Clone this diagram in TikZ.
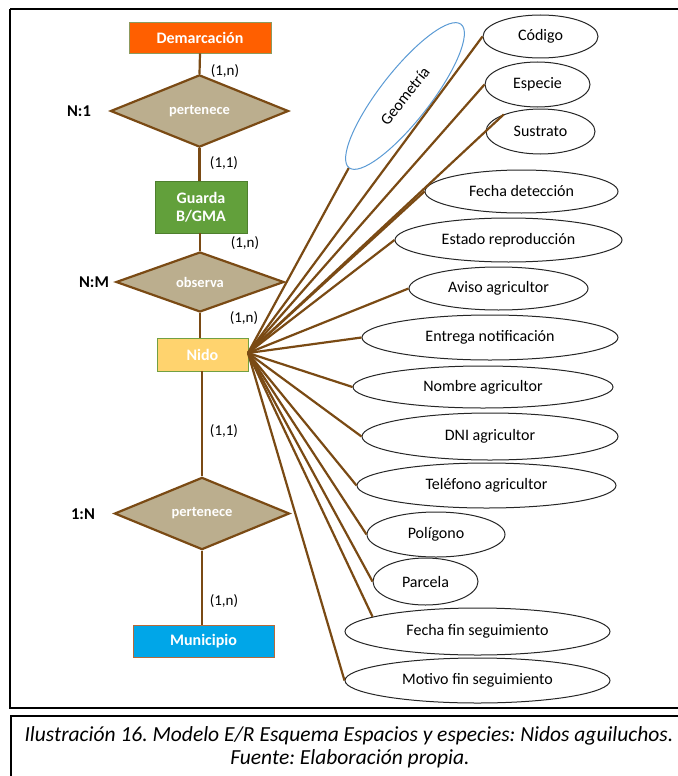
\documentclass[tikz,border=0pt]{standalone}
\usepackage{fontspec}
\setmainfont{Carlito}
\usetikzlibrary{shapes.geometric}

\definecolor{linkbrown}{HTML}{7A4A14}
\definecolor{relfill}{HTML}{BBAE8E}
\definecolor{demfill}{HTML}{FF5F00}
\definecolor{demline}{HTML}{8C9A5E}
\definecolor{guafill}{HTML}{62A03B}
\definecolor{gualine}{HTML}{4E7F2E}
\definecolor{nidfill}{HTML}{FFD36E}
\definecolor{nidline}{HTML}{72A042}
\definecolor{munfill}{HTML}{00A6E8}
\definecolor{munline}{HTML}{B56A3A}
\definecolor{geoline}{HTML}{5B9BD5}

\tikzset{
  entity/.style={rectangle, draw, line width=0.9pt, inner sep=0pt,
    text=white, font=\fontsize{16}{18.5}\selectfont\bfseries, align=center},
  relation/.style={diamond, draw=linkbrown, fill=relfill, line width=2.2pt,
    inner sep=0pt, text=white, font=\fontsize{14.5}{17}\selectfont\bfseries},
  attrib/.style={ellipse, draw=black!85, line width=1pt, inner sep=0pt,
    font=\fontsize{16}{18}\selectfont},
  card/.style={font=\fontsize{15}{17}\selectfont, inner sep=0pt},
  ratio/.style={font=\fontsize{16.5}{18}\selectfont\bfseries, inner sep=0pt},
  link/.style={draw=linkbrown, line width=2.2pt},
  caption/.style={font=\fontsize{21.5}{23}\selectfont\itshape, inner sep=0pt}
}

\begin{document}
\frenchspacing
\begin{tikzpicture}[x=1pt,y=-1pt]
\useasboundingbox (0,0) rectangle (677,776);
\fill[white] (0,0) rectangle (677,776);

% outer frame and caption box
\draw[line width=2.4pt] (10,9) -- (690,9);
\draw[line width=2.4pt] (10,9) -- (10,708) -- (690,708);
\draw[line width=1.8pt] (690,716) -- (11,716) -- (11,790);

% entities
\node[entity, fill=demfill, draw=demline, minimum width=142, minimum height=31]
  (dem) at (200,37.5) {Demarcación};
\node[entity, fill=guafill, draw=gualine, minimum width=92, minimum height=52]
  (gua) at (201,207) {Guarda\\B/GMA};
\node[entity, fill=nidfill, draw=nidline, minimum width=91, minimum height=33]
  (nido) at (202.5,354.5) {Nido};
\node[entity, fill=munfill, draw=munline, minimum width=141, minimum height=32]
  (mun) at (203.5,641) {Municipio};

% relationships
\node[relation, minimum width=178, minimum height=58] (r1) at (199.5,111) {pertenece};
\node[relation, minimum width=168, minimum height=60] (r2) at (200,282) {observa};
\node[relation, minimum width=175, minimum height=59] (r3) at (202,513.5) {pertenece};

% main chain
\draw[link] (dem.south) -- (r1.north);
\draw[link] (r1.south) -- (gua.north -| r1.south);
\draw[link] (gua.south -| r2.north) -- (r2.north);
\draw[link] (r2.south) -- (nido.north -| r2.south);
\draw[link] (nido.south -| r3.north) -- (r3.north);
\draw[link] (r3.south) -- (mun.north -| r3.south);

% cardinalities
\node[card] (c1) at (225,71) {(1,n)};
\node[card] (c2) at (224,163) {(1,1)};
\node[card] (c3) at (245,243) {(1,n)};
\node[card] (c4) at (244,318) {(1,n)};
\node[card] (c5) at (224,431) {(1,1)};
\node[card] (c6) at (224,601) {(1,n)};

\node[ratio] (t1) at (79,111) {N:1};
\node[ratio] (t2) at (94,282) {N:M};
\node[ratio] (t3) at (83,514) {1:N};

% attributes of Nido
\node[attrib, draw=geoline, rotate=52, minimum width=182, minimum height=50]
  (geo) at (405,96) {Geometría};
\node[attrib, minimum width=115, minimum height=43] (cod) at (540.5,36.5) {Código};
\node[attrib, minimum width=105, minimum height=45] (esp) at (537.5,84.5) {Especie};
\node[attrib, minimum width=109, minimum height=45] (sus) at (540.5,131.5) {Sustrato};
\node[attrib, minimum width=193, minimum height=43] (fdet) at (521.5,191.5) {Fecha detección};
\node[attrib, minimum width=227, minimum height=44] (est) at (508.5,240) {Estado reproducción};
\node[attrib, minimum width=179, minimum height=43] (avi) at (498.5,288.5) {Aviso agricultor};
\node[attrib, minimum width=256, minimum height=45] (ent) at (490,337.5) {Entrega notificación};
\node[attrib, minimum width=260, minimum height=42] (nom) at (483,387) {Nombre agricultor};
\node[attrib, minimum width=256, minimum height=47] (dni) at (490,436.5) {DNI agricultor};
\node[attrib, minimum width=259, minimum height=45] (tel) at (486.5,485.5) {Teléfono agricultor};
\node[attrib, minimum width=138, minimum height=45] (pol) at (436,534.5) {Polígono};
\node[attrib, minimum width=105, minimum height=47] (par) at (425.5,581.5) {Parcela};
\node[attrib, minimum width=265, minimum height=47] (ffin) at (477.5,631.5) {Fecha fin seguimiento};
\node[attrib, minimum width=265, minimum height=45] (mot) at (477.5,680.5) {Motivo fin seguimiento};

% every attribute hangs from the right side of Nido
\coordinate (hub) at (248,353);
\foreach \a in {geo.west, cod.west, esp.west, sus.155, fdet.west, est.west,
  avi.west, ent.west, nom.west, dni.west, tel.west, pol.west, par.west,
  ffin.172, mot.west}
  \draw[link] (hub) -- (\a);

% caption
\node[caption] (cap1) at (349,736)
  {Ilustración 16. Modelo E/R Esquema Espacios y especies: Nidos aguiluchos.};
\node[caption] (cap2) at (350,759) {Fuente: Elaboración propia.};
\end{tikzpicture}
\end{document}
